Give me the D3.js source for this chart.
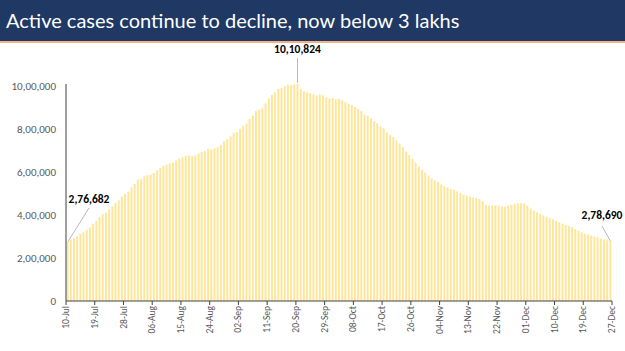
<!DOCTYPE html>
<html>
<head>
<meta charset="utf-8">
<script src="https://cdn.jsdelivr.net/npm/d3@7"></script>
<style>
  body { margin: 0; background: #fff; overflow: hidden; }
  svg { display: block; }
  .chart text { font-family: Calibri, Carlito, "Open Sans", sans-serif; }
</style>
</head>
<body>
<div class="chart"></div>
<script>
const width = 625
const height = 351
const margin = { top: 84, right: 13, left: 66, bottom: 50 }
const innerWidth = width - margin.left - margin.right
const innerHeight = height - margin.top - margin.bottom

const titleText = "Active cases continue to decline, now below 3 lakhs"
const startDate = new Date(2020, 6, 10)

// daily active cases, 10-Jul to 27-Dec
const julCases = [276682, 283400, 292300, 301600, 311600, 319800, 331100, 342500, 358700, 373400, 390500,
    402500, 411100, 426200, 440100, 456100, 467900, 485100, 497000, 509400, 528200, 545300]
const augCases = [565100, 567700, 579400, 585400, 587900, 595500, 607400, 619100, 628700, 634900, 639900,
    643900, 653600, 661600, 668200, 676900, 676500, 673200, 676900, 686400, 692000, 697300, 707700,
    704300, 710800, 715500, 726000, 742000, 752400, 765300, 782000]
const sepCases = [786000, 801300, 815500, 825000, 846400, 862300, 883700, 890000, 897400, 919000, 943500,
    958300, 970500, 986600, 990100, 1001000, 1006000, 1004000, 1008000, 1010824, 985000, 975900, 970100,
    966400, 960900, 956400, 960400, 956400, 947600, 940400]
const octCases = [944000, 937600, 940000, 934400, 926000, 919000, 911000, 902400, 893600, 883200, 867500,
    861900, 849000, 835700, 826900, 812400, 804500, 783300, 772100, 761500, 746400, 732400, 715800,
    695500, 678600, 661800, 643900, 625900, 610800, 597200, 583500]
const novCases = [570500, 561900, 553300, 541400, 533800, 527900, 520800, 516600, 509700, 503000, 494700,
    490300, 486200, 480700, 479200, 474300, 465500, 446800, 443300, 443800, 444700, 443500, 439700,
    438700, 444700, 447200, 452300, 454900, 453900, 453300]
const decCases = [443500, 430000, 421000, 412000, 405000, 398000, 392000, 386000, 380000, 373000, 366000,
    360000, 354000, 349000, 343000, 335000, 327000, 319000, 313000, 310000, 303600, 300100, 296700,
    290700, 285900, 282200, 278690]

const yTicks = [0, 200000, 400000, 600000, 800000, 1000000]
const xTickLabels = ["10-Jul", "19-Jul", "28-Jul", "06-Aug", "15-Aug", "24-Aug", "02-Sep", "11-Sep",
    "20-Sep", "29-Sep", "08-Oct", "17-Oct", "26-Oct", "04-Nov", "13-Nov", "22-Nov", "01-Dec",
    "10-Dec", "19-Dec", "27-Dec"]

const cases = [].concat(julCases, augCases, sepCases, octCases, novCases, decCases)
const formatDay = d3.timeFormat("%d-%b")
const data = cases.map((v, i) => ({ date: formatDay(d3.timeDay.offset(startDate, i)), value: v }))

// Indian grouping: 10,10,824
function formatIN(n) {
    const s = String(n)
    if (s.length <= 3) return s
    const last3 = s.slice(-3)
    let rest = s.slice(0, -3)
    const parts = []
    while (rest.length > 2) {
        parts.unshift(rest.slice(-2))
        rest = rest.slice(0, -2)
    }
    if (rest.length) parts.unshift(rest)
    return parts.join(",") + "," + last3
}

const root = d3.select(".chart")
    .append("svg")
    .attr("width", width)
    .attr("height", height)
    .attr("viewBox", "0 0 " + width + " " + height)

// title banner
root.append("rect")
    .attr("x", 0).attr("y", 0)
    .attr("width", width).attr("height", 41)
    .attr("fill", "#1f3864")
root.append("rect")
    .attr("x", 0).attr("y", 41)
    .attr("width", width).attr("height", 2)
    .attr("fill", "#f4b183")
root.append("text")
    .attr("x", 6)
    .attr("y", 28)
    .attr("fill", "#fff")
    .style("font-family", "Lato, 'Open Sans', sans-serif")
    .style("font-size", "20px")
    .text(titleText)

const svg = root.append("g")
    .attr("transform", "translate(" + margin.left + "," + margin.top + ")")

const xScale = d3.scaleBand()
    .domain(data.map(d => d.date))
    .range([0, innerWidth])
    .paddingInner(0.4)
    .paddingOuter(0.2)

const yScale = d3.scaleLinear()
    .domain([0, 1000000])
    .range([innerHeight, 2])

svg.selectAll(".bar")
    .data(data)
    .enter()
    .append("rect")
    .attr("class", "bar")
    .attr("x", d => xScale(d.date))
    .attr("y", d => yScale(d.value))
    .attr("width", xScale.bandwidth())
    .attr("height", d => innerHeight - yScale(d.value))
    .attr("fill", "#ffe597")

const yAxis = d3.axisLeft(yScale)
    .tickValues(yTicks)
    .tickFormat(formatIN)
    .tickSize(0)
    .tickPadding(10)

svg.append("g")
    .attr("class", "y-axis")
    .call(yAxis)
    .call(g => g.select(".domain").attr("stroke", "#404040").attr("d", "M0," + innerHeight + "V0"))
    .selectAll("text")
        .attr("fill", "#595959")
        .style("font-size", "11px")

// x axis: ticks at the left edge of labelled days
const xPos = d => {
    const s = xScale.step()
    return d === "27-Dec" ? innerWidth : xScale(d) - s * 0.2
}

const xg = svg.append("g")
    .attr("class", "x-axis")
    .attr("transform", "translate(0," + innerHeight + ")")

xg.append("line")
    .attr("x1", 0).attr("x2", innerWidth)
    .attr("stroke", "#404040")

const tick = xg.selectAll(".tick")
    .data(xTickLabels)
    .enter()
    .append("g")
    .attr("class", "tick")
    .attr("transform", d => "translate(" + xPos(d) + ",0)")

tick.append("line")
    .attr("y2", 4)
    .attr("stroke", "#404040")

tick.append("text")
    .attr("transform", "rotate(-90)")
    .attr("x", -5)
    .attr("dy", "0.32em")
    .attr("text-anchor", "end")
    .attr("fill", "#595959")
    .style("font-size", "9.5px")
    .text(d => d)

// data labels
const first = data[0]
const last = data[data.length - 1]
const peak = data.reduce((a, b) => (b.value > a.value ? b : a))
const cx = d => xScale(d.date) + xScale.bandwidth() / 2

const labels = [
    { d: first, tx: 23, ty: 119, lx1: 2, ly1: yScale(first.value), lx2: 23, ly2: 124 },
    { d: peak, tx: cx(peak), ty: -31, lx1: cx(peak), ly1: yScale(peak.value) - 1, lx2: cx(peak), ly2: -26 },
    { d: last, tx: 536, ty: 135, lx1: cx(last), ly1: yScale(last.value), lx2: 536, ly2: 142 }
]

svg.selectAll(".leader")
    .data(labels)
    .enter()
    .append("line")
    .attr("x1", d => d.lx1).attr("y1", d => d.ly1)
    .attr("x2", d => d.lx2).attr("y2", d => d.ly2)
    .attr("stroke", "#a6a6a6")
    .attr("stroke-width", 0.8)

svg.selectAll(".dlabel")
    .data(labels)
    .enter()
    .append("text")
    .attr("x", d => d.tx)
    .attr("y", d => d.ty)
    .attr("text-anchor", "middle")
    .attr("fill", "#000")
    .style("font-size", "11.5px")
    .style("font-weight", "bold")
    .text(d => formatIN(d.d.value))
</script>
</body>
</html>
